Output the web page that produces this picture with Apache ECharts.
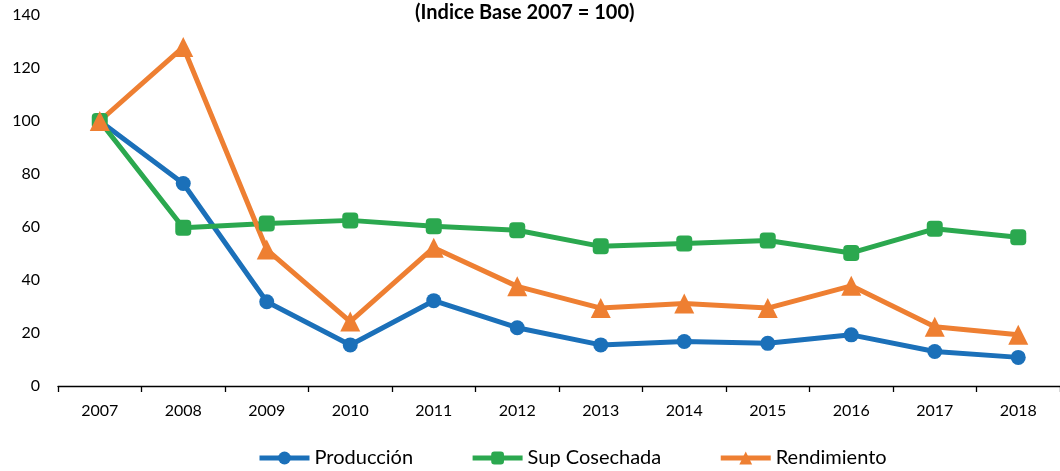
<!DOCTYPE html>
<html>
<head>
<meta charset="utf-8">
<script src="https://cdn.jsdelivr.net/npm/echarts@6/dist/echarts.min.js"></script>
<style>
  html, body { margin: 0; padding: 0; background: #fff; }
  #chart { width: 1060px; height: 471px; }
</style>
</head>
<body>
<div id="chart"></div>
<script>
// Years on the category axis
const years = ['2007', '2008', '2009', '2010', '2011', '2012', '2013', '2014', '2015', '2016', '2017', '2018'];

// Index values (base 2007 = 100)
const produccion = [100, 76.4, 31.8, 15.5, 32.2, 22.0, 15.5, 16.8, 16.1, 19.3, 13.0, 10.8];
const supCosechada = [100, 59.7, 61.3, 62.5, 60.3, 58.8, 52.7, 53.8, 54.9, 50.2, 59.3, 56.1];
const rendimiento = [100, 127.9, 51.5, 24.3, 52.2, 37.6, 29.4, 31.1, 29.4, 37.8, 22.4, 19.3];

const FONT = 'Lato, "Open Sans", sans-serif';

const chart = echarts.init(document.getElementById('chart'));

function lineSeries(name, data, color, symbol, size) {
  return {
    name: name,
    type: 'line',
    data: data,
    symbol: symbol,
    symbolSize: size,
    showAllSymbol: true,
    lineStyle: { width: 5, color: color },
    itemStyle: { color: color },
    emphasis: { disabled: true },
    z: 2
  };
}

chart.setOption({
  animation: false,
  textStyle: { fontFamily: FONT },
  title: {
    text: '(Indice Base 2007 = 100)',
    left: 410,
    top: -2,
    textStyle: { fontFamily: FONT, fontSize: 20, fontWeight: 'bold', color: '#000' }
  },
  legend: {
    left: 252,
    top: 443,
    itemWidth: 50,
    itemHeight: 16,
    itemGap: 57,
    lineStyle: { width: 5 },
    textStyle: { fontFamily: FONT, fontSize: 20, color: '#000' },
    data: ['Producción', 'Sup Cosechada', 'Rendimiento']
  },
  grid: { left: 58, top: 15, width: 1006, height: 371, containLabel: false },
  xAxis: {
    type: 'category',
    data: years,
    boundaryGap: true,
    axisLine: { lineStyle: { color: '#000', width: 1.3 } },
    axisTick: { show: true, length: 6, lineStyle: { color: '#000', width: 1.3 } },
    axisLabel: { color: '#000', fontSize: 16, margin: 17, fontFamily: FONT },
    splitLine: { show: false }
  },
  yAxis: {
    type: 'value',
    min: 0,
    max: 140,
    interval: 20,
    axisLine: { show: false },
    axisTick: { show: false },
    splitLine: { show: false },
    axisLabel: { color: '#000', fontSize: 16, margin: 18, fontFamily: FONT }
  },
  series: [
    lineSeries('Producción', produccion, '#1B70B9', 'circle', 15),
    lineSeries('Sup Cosechada', supCosechada, '#2BA84F', 'roundRect', 16),
    lineSeries('Rendimiento', rendimiento, '#EE7F32', 'triangle', 20)
  ]
});
</script>
</body>
</html>
